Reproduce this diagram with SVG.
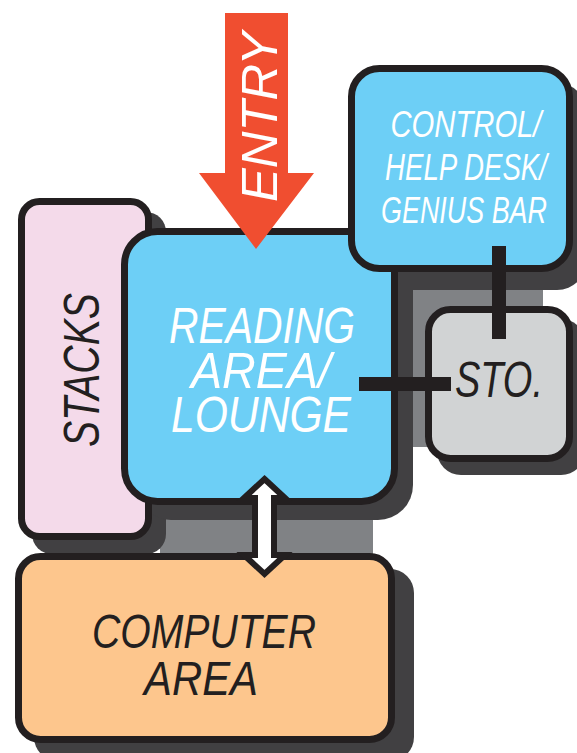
<svg xmlns="http://www.w3.org/2000/svg" width="577" height="753" viewBox="0 0 577 753">
  <style>
    .sh { fill: #414042; }
    .mid { fill: #808285; }
    .box { stroke: #231F20; stroke-width: 7; }
    .lbl { font-family: "Liberation Sans", Arial, sans-serif; font-style: italic; text-anchor: middle; }
    .w { fill: #FFFFFF; }
    .d { fill: #231F20; }
    .bar { fill: #231F20; }
  </style>
  <rect width="577" height="753" fill="#FFFFFF"/>

  <g id="floor">
    <rect class="mid" x="413" y="290" width="130" height="157"/>
    <rect class="mid" x="160" y="515" width="213" height="40"/>
  </g>

  <g id="shadows">
    <rect class="sh" x="32" y="212" width="134" height="342" rx="20"/>
    <rect class="sh" x="136" y="243" width="277" height="277" rx="35"/>
    <rect class="sh" x="362" y="83" width="225" height="207" rx="30"/>
    <rect class="sh" x="437" y="319" width="148" height="156" rx="24"/>
    <rect class="sh" x="34" y="569" width="380" height="192" rx="24"/>
  </g>

  <g id="stacks">
    <rect class="box" x="21.5" y="201.5" width="127" height="335" rx="18" fill="#F4DAEA"/>
    <text class="lbl d" font-size="50" transform="translate(99,370) rotate(-90)" textLength="154" lengthAdjust="spacingAndGlyphs">STACKS</text>
  </g>

  <g id="reading">
    <rect class="box" x="124.5" y="231.5" width="270" height="270" rx="33" fill="#6DCFF6"/>
    <text class="lbl w" font-size="50" x="262" y="343" textLength="186" lengthAdjust="spacingAndGlyphs">READING</text>
    <text class="lbl w" font-size="50" x="261" y="388" textLength="140" lengthAdjust="spacingAndGlyphs">AREA/</text>
    <text class="lbl w" font-size="50" x="261" y="432" textLength="180" lengthAdjust="spacingAndGlyphs">LOUNGE</text>
  </g>

  <g id="control">
    <rect class="box" x="351.5" y="68.5" width="218" height="200" rx="28" fill="#6DCFF6"/>
    <text class="lbl w" font-size="37" x="466" y="137" textLength="151" lengthAdjust="spacingAndGlyphs">CONTROL/</text>
    <text class="lbl w" font-size="37" x="466" y="180" textLength="162" lengthAdjust="spacingAndGlyphs">HELP DESK/</text>
    <text class="lbl w" font-size="37" x="464" y="223" textLength="166" lengthAdjust="spacingAndGlyphs">GENIUS BAR</text>
  </g>

  <g id="storage">
    <rect class="box" x="428.5" y="309.5" width="141" height="149" rx="22" fill="#D1D3D4"/>
    <text class="lbl d" font-size="50" x="499" y="397" textLength="88" lengthAdjust="spacingAndGlyphs">STO.</text>
  </g>

  <g id="computer">
    <rect class="box" x="18.5" y="556.5" width="373" height="183" rx="22" fill="#FDC68D"/>
    <text class="lbl d" font-size="49" x="204" y="648" textLength="224" lengthAdjust="spacingAndGlyphs">COMPUTER</text>
    <text class="lbl d" font-size="49" x="201" y="695" textLength="114" lengthAdjust="spacingAndGlyphs">AREA</text>
  </g>

  <g id="connectors">
    <rect class="bar" x="359" y="377" width="92" height="14"/>
    <rect class="bar" x="492" y="246" width="14" height="93"/>
    <path d="M264.5 479 L285 498 L274 498 L274 555 L285 555 L264.5 574 L244 555 L255 555 L255 498 L244 498 Z" fill="#FFFFFF" stroke="#231F20" stroke-width="6" stroke-linejoin="miter"/>
  </g>

  <g id="entry">
    <path d="M225 13 L288 13 L288 173 L314 173 L256 249 L199 173 L225 173 Z" fill="#F04E30"/>
    <text class="lbl w" font-size="50" transform="translate(277,117) rotate(-90)" textLength="170" lengthAdjust="spacingAndGlyphs">ENTRY</text>
  </g>
</svg>
